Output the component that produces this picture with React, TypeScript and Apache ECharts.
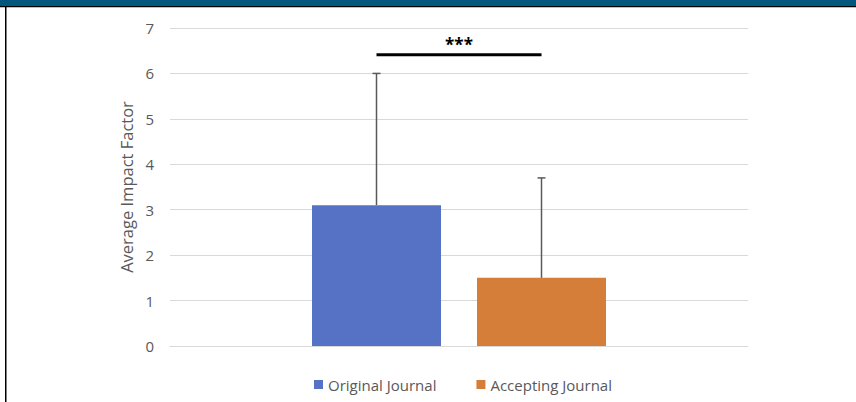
import React, { useEffect, useRef } from "react";
import * as echarts from "echarts";

const categories = [""];
const seriesNames = ["Original Journal", "Accepting Journal"];
const means = [3.1, 1.5];
const errorTops = [6.0, 3.7];
const colors = ["#5572C4", "#D57E3A"];
const significanceLevel = 6.41;
const significanceLabel = "***";
const yTicks = [0, 7, 1]; // min, max, interval

const BAR_WIDTH = 129;
const BAR_GAP = 36;
const FONT = "'Open Sans', 'Noto Sans', sans-serif";

export default function App() {
  const ref = useRef<HTMLDivElement>(null);
  useEffect(() => {
    if (!ref.current) return;
    const chart = echarts.init(ref.current, undefined, { renderer: "svg" });
    const offsetFor = (i: number) => (i - (means.length - 1) / 2) * (BAR_WIDTH + BAR_GAP);
    chart.setOption({
      animation: false,
      backgroundColor: "#ffffff",
      grid: { left: 170, right: 108, top: 28, bottom: 56, containLabel: false },
      legend: {
        data: seriesNames,
        left: 309,
        top: 372,
        icon: "rect",
        itemWidth: 9,
        itemHeight: 9,
        itemGap: 40,
        textStyle: { fontFamily: FONT, fontSize: 15, color: "#595959" },
      },
      xAxis: {
        type: "category",
        data: categories,
        axisLine: { show: true, lineStyle: { color: "#d9d9d9", width: 1 } },
        axisTick: { show: false },
        axisLabel: { show: false },
      },
      yAxis: {
        type: "value",
        min: yTicks[0],
        max: yTicks[1],
        interval: yTicks[2],
        name: "Average Impact Factor",
        nameLocation: "middle",
        nameGap: 30,
        nameTextStyle: { fontFamily: FONT, fontSize: 16.5, color: "#595959" },
        axisLine: { show: false },
        axisTick: { show: false },
        axisLabel: { fontFamily: FONT, fontSize: 15, color: "#595959", margin: 16 },
        splitLine: { lineStyle: { color: "#d9d9d9", width: 1 } },
      },
      series: [
        ...seriesNames.map((name, i) => ({
          name,
          type: "bar",
          data: [means[i]],
          barWidth: BAR_WIDTH,
          barGap: `${(BAR_GAP / BAR_WIDTH) * 100}%`,
          itemStyle: { color: colors[i] },
        })),
        {
          type: "custom",
          name: "errors",
          data: means.map((m, i) => [0, m, errorTops[i]]),
          z: 10,
          renderItem: (params: any, api: any) => {
            const i = params.dataIndex;
            const low = api.coord([api.value(0), api.value(1)]);
            const high = api.coord([api.value(0), api.value(2)]);
            const x = low[0] + offsetFor(i);
            const style = { stroke: "#595959", lineWidth: 1.5 };
            return {
              type: "group",
              children: [
                { type: "line", shape: { x1: x, y1: low[1], x2: x, y2: high[1] }, style },
                { type: "line", shape: { x1: x - 4, y1: high[1], x2: x + 4, y2: high[1] }, style },
              ],
            };
          },
        },
        {
          type: "custom",
          name: "significance",
          data: [[0, significanceLevel]],
          z: 10,
          renderItem: (params: any, api: any) => {
            const p = api.coord([api.value(0), api.value(1)]);
            const x1 = p[0] + offsetFor(0);
            const x2 = p[0] + offsetFor(1);
            return {
              type: "group",
              children: [
                { type: "line", shape: { x1, y1: p[1], x2, y2: p[1] }, style: { stroke: "#000", lineWidth: 3 } },
                {
                  type: "text",
                  x: (x1 + x2) / 2,
                  y: p[1] - 2,
                  style: {
                    text: significanceLabel,
                    fill: "#000",
                    font: `bold 17px ${FONT}`,
                    textAlign: "center",
                    textVerticalAlign: "bottom",
                  },
                },
              ],
            };
          },
        },
      ],
      graphic: [
        { type: "rect", shape: { x: 0, y: 0, width: 856, height: 6 }, style: { fill: "#03577F" }, silent: true },
        { type: "rect", shape: { x: 0, y: 6, width: 856, height: 1.2 }, style: { fill: "#000" }, silent: true },
        { type: "rect", shape: { x: 5, y: 6, width: 1.5, height: 396 }, style: { fill: "#000" }, silent: true },
      ],
    });
    return () => chart.dispose();
  }, []);
  return (
    <div
      ref={ref}
      style={{ position: "absolute", left: 0, top: 0, width: 856, height: 402 }}
    />
  );
}
